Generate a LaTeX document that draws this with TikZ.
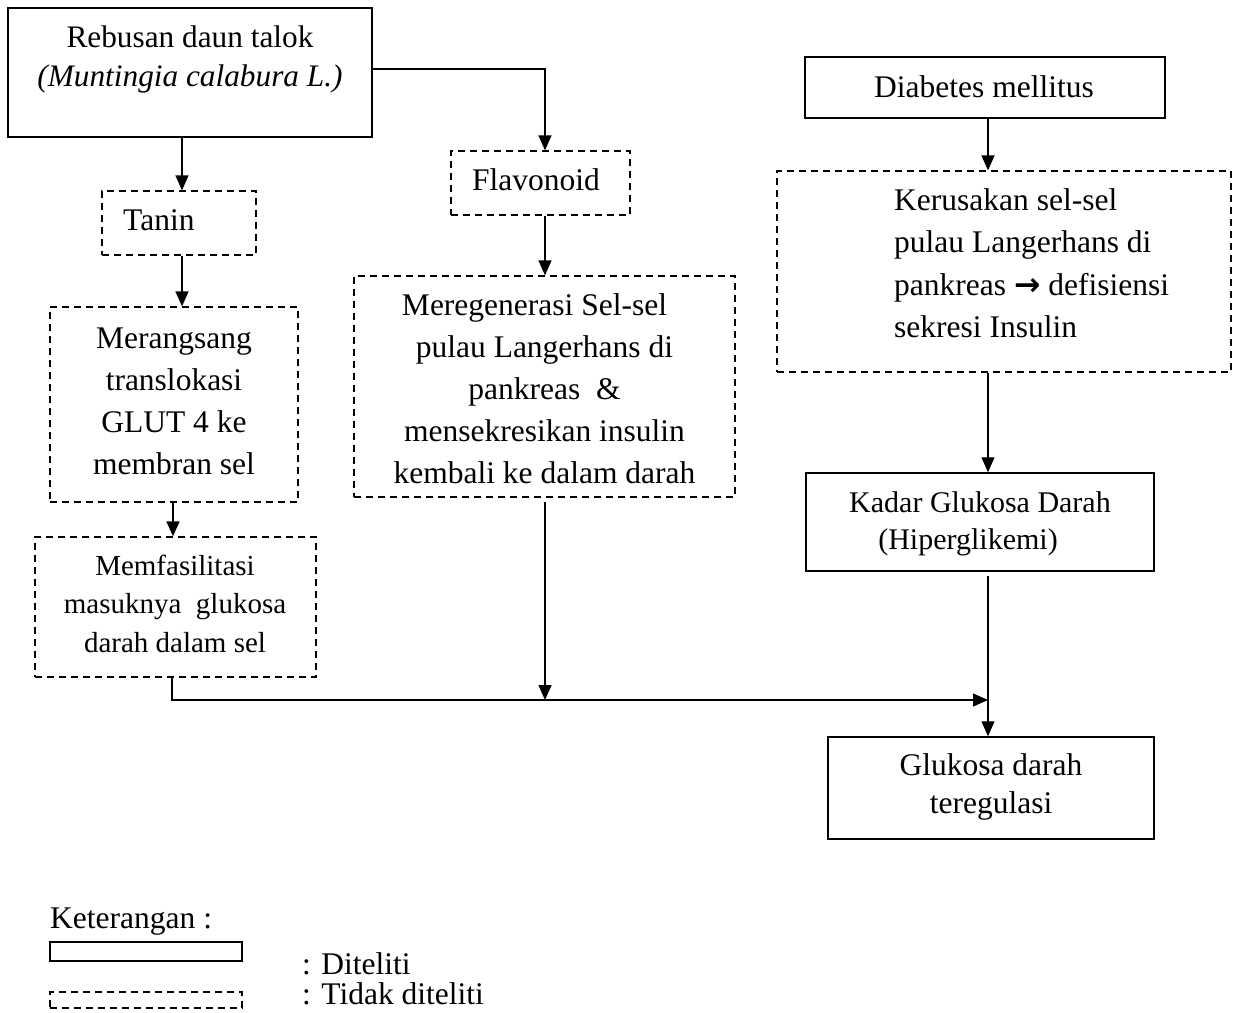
\documentclass[tikz,border=0pt]{standalone}
\usepackage{fontspec}
\setmainfont{Liberation Serif}
\newfontfamily\symfnt{DejaVu Sans}
\usetikzlibrary{arrows.meta}
\begin{document}
\begin{tikzpicture}[x=1pt,y=-1pt,
  solidbox/.style={draw, line width=1.5pt, inner sep=0pt},
  dashbox/.style={draw, line width=1.3pt, dash pattern=on 7pt off 5pt, inner sep=0pt},
  txt/.style={inner sep=0pt, font=\fontsize{31.5}{42}\selectfont, align=center},
  ltxt/.style={inner sep=0pt, font=\fontsize{31.5}{42.5}\selectfont, align=left},
  arr/.style={line width=1.4pt, -{Triangle[length=15pt,width=13pt]}}]
\useasboundingbox (0,0) rectangle (1239,1012);
% boxes
\node[solidbox, minimum width=364pt, minimum height=129pt] (reb) at (190,72.5) {};
\node[dashbox, minimum width=154pt, minimum height=64pt] (tan) at (179,223) {};
\node[dashbox, minimum width=179pt, minimum height=64pt] (fla) at (540.5,183) {};
\node[dashbox, minimum width=248pt, minimum height=195pt] (mer) at (174,404.5) {};
\node[dashbox, minimum width=281pt, minimum height=140pt] (mem) at (175.5,607) {};
\node[dashbox, minimum width=381pt, minimum height=221pt] (reg) at (544.5,386.5) {};
\node[solidbox, minimum width=360pt, minimum height=61pt] (dia) at (985,87.5) {};
\node[dashbox, minimum width=454pt, minimum height=201pt] (ker) at (1004,271.5) {};
\node[solidbox, minimum width=348pt, minimum height=98pt] (kad) at (980,522) {};
\node[solidbox, minimum width=326pt, minimum height=102pt] (glu) at (991,788) {};
\node[solidbox, minimum width=192pt, minimum height=19pt] (lsol) at (146,951.5) {};
\node[dashbox, minimum width=192pt, minimum height=16pt] (ldas) at (146,1000) {};
% texts (anchor=base is the baseline of the last line)
\node[txt, anchor=base, font=\fontsize{31.3}{39}\selectfont] (treb) at (190,86) {Rebusan daun talok\\\textit{(Muntingia calabura L.)}};
\node[txt, anchor=base west] (ttan) at (123,230) {Tanin};
\node[txt, anchor=base west] (tfla) at (472,190) {Flavonoid};
\node[txt, anchor=base] (tmer) at (174,474) {Merangsang\\translokasi\\GLUT 4 ke\\membran sel};
\node[txt, anchor=base, font=\fontsize{29}{38.5}\selectfont] (tmem) at (175,652) {Memfasilitasi\\masuknya\ \ glukosa\\darah dalam sel};
\node[txt, anchor=base] (treg) at (544.5,483) {Meregenerasi Sel-sel\hspace*{20pt}\\pulau Langerhans di\\pankreas\ \ \&\\mensekresikan insulin\\kembali ke dalam darah};
\node[txt, anchor=base] (tdia) at (984,97) {Diabetes mellitus};
\node[ltxt, anchor=base west] (tker) at (894,337.5) {Kerusakan sel-sel\\pulau Langerhans di\\pankreas {\symfnt\bfseries →} defisiensi\\sekresi Insulin};
\node[txt, anchor=base, font=\fontsize{30}{37}\selectfont] (tkad) at (980,549) {Kadar Glukosa Darah\\(Hiperglikemi)\hspace*{24pt}};
\node[txt, anchor=base, font=\fontsize{31.5}{38}\selectfont] (tglu) at (991,813) {Glukosa darah\\teregulasi};
\node[txt, anchor=base west] (tket) at (50,928) {Keterangan :};
\node[txt, anchor=base west] (tdit) at (302,974) {: Diteliti};
\node[txt, anchor=base west] (ttdk) at (302,1004) {: Tidak diteliti};
% helper coordinates
\coordinate (xA) at (182,0);
\coordinate (xB) at (173,0);
\coordinate (xC) at (545,0);
\coordinate (xD) at (172,0);
\coordinate (xE) at (988,0);
\coordinate (yA) at (0,69);
\coordinate (regout) at (545,502);
\coordinate (j1) at (545,700);
\coordinate (j2) at (988,700);
\coordinate (kadout) at (988,576);
% connectors
\draw[arr] (reb.south -| xA) -- (tan.north -| xA);
\draw[arr] (tan.south -| xA) -- (mer.north -| xA);
\draw[arr] (mer.south -| xB) -- (mem.north -| xB);
\draw[arr] (reb.east |- yA) -| (fla.north -| xC);
\draw[arr] (fla.south -| xC) -- (reg.north -| xC);
\draw[arr] (regout) -- (j1);
\draw[arr] (mem.south -| xD) |- (j2);
\draw[arr] (dia.south -| xE) -- (ker.north -| xE);
\draw[arr] (ker.south -| xE) -- (kad.north -| xE);
\draw[arr] (kadout) -- (glu.north -| xE);
\end{tikzpicture}
\end{document}
